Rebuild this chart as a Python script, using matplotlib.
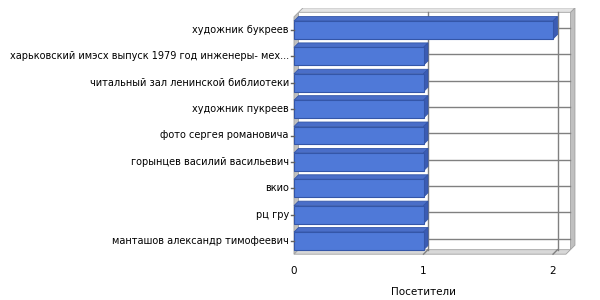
import numpy as np
import matplotlib.pyplot as plt
from matplotlib.patches import Polygon

categories = ["художник букреев",
              "харьковский имэсх выпуск 1979 год инженеры- мех...",
              "читальный зал ленинской библиотеки",
              "художник пукреев",
              "фото сергея романовича",
              "горынцев василий васильевич",
              "вкио",
              "рц гру",
              "манташов александр тимофеевич"]
visitors = [2, 1, 1, 1, 1, 1, 1, 1, 1]
xticks = [0, 1, 2]
xlabel = "Посетители"

plt.rcParams['font.family'] = ['DejaVu Sans']

W, H = 600, 300
fig = plt.figure(figsize=(6, 3), dpi=100)

# pixel layout (front plane: 0 -> x=294, 2 -> x=553; first bar centre y=30, last y=241)
x0, sx = 294.0, 129.5
y0, sy = 30.0, 26.375
D = 4.5  # 3d depth in px
L, R, T, B = 286, 576, 8, 262
ax = fig.add_axes([L / W, 1 - B / H, (R - L) / W, (B - T) / H])
ax.set_xlim((L - x0) / sx, (R - x0) / sx)
ax.set_ylim((B - y0) / sy, (T - y0) / sy)
ax.axis('off')

dx = D / sx
dy = D / sy
n = len(categories)
pos = np.arange(n)
xmax = 2.1
ymin, ymax = -0.5, n - 0.5
wall = '#c0c0c0'
grid = '#808080'

# back wall (white) + left wall + floor + right edge
ax.add_patch(Polygon([(dx, ymin - dy), (xmax + dx, ymin - dy), (xmax + dx, ymax - dy), (dx, ymax - dy)],
                     closed=True, fc='white', ec='none', zorder=0))
ax.add_patch(Polygon([(0, ymin), (dx, ymin - dy), (dx, ymax - dy), (0, ymax)],
                     closed=True, fc=wall, ec='#a0a0a0', lw=0.6, zorder=1))
ax.add_patch(Polygon([(0, ymax), (dx, ymax - dy), (xmax + dx, ymax - dy), (xmax, ymax)],
                     closed=True, fc='#d8d8d8', ec='#a0a0a0', lw=0.6, zorder=1))
ax.add_patch(Polygon([(xmax + dx, ymin - dy), (xmax + 2 * dx, ymin - 2 * dy),
                      (xmax + 2 * dx, ymax - 2 * dy), (xmax + dx, ymax - dy)],
                     closed=True, fc=wall, ec='#a0a0a0', lw=0.6, zorder=1))
ax.add_patch(Polygon([(dx, ymin - dy), (2 * dx, ymin - 2 * dy), (xmax + 2 * dx, ymin - 2 * dy),
                      (xmax + dx, ymin - dy)],
                     closed=True, fc='#e4e4e4', ec='#a0a0a0', lw=0.6, zorder=1))

# grid on the back wall
for v in xticks[1:]:
    ax.plot([v + dx, v + dx], [ymin - dy, ymax - dy], color=grid, lw=1, zorder=2)
    ax.plot([v, v + dx], [ymax, ymax - dy], color=grid, lw=1, zorder=2)
for p in pos:
    ax.plot([dx, xmax + dx], [p - dy * 0.5, p - dy * 0.5], color=grid, lw=1, zorder=2)

# bars
h = 0.68
ax.barh(pos, visitors, height=h, left=0, color='#4f79d8', edgecolor='#3456a8', lw=0.8, zorder=4)
for p, v in zip(pos, visitors):
    t = p - h / 2
    b = p + h / 2
    ax.add_patch(Polygon([(0, t), (v, t), (v + dx, t - dy), (dx, t - dy)],
                         closed=True, fc='#4a6ec8', ec='#3456a8', lw=0.6, zorder=3))
    ax.add_patch(Polygon([(v, t), (v + dx, t - dy), (v + dx, b - dy), (v, b)],
                         closed=True, fc='#3c5cb4', ec='#3456a8', lw=0.6, zorder=3))

# y tick marks and labels
for p, c in zip(pos, categories):
    ax.plot([-0.025, 0], [p, p], color='#606060', lw=1, zorder=5, clip_on=False)
    ax.text(-0.04, p, c, ha='right', va='center', fontsize=7, clip_on=False)

# x ticks
for v in xticks:
    ax.text(v, ymax + 0.62, str(v), ha='center', va='center', fontsize=7.5, clip_on=False)
ax.text(1, ymax + 1.45, xlabel, ha='center', va='center', fontsize=7.5, clip_on=False)

fig.savefig('out.png', dpi=100)
